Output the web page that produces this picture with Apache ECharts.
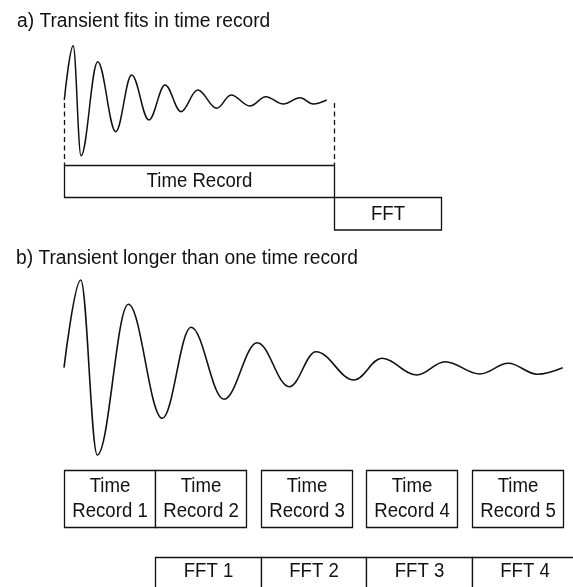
<!DOCTYPE html>
<html><head><meta charset="utf-8">
<script src="https://cdn.jsdelivr.net/npm/echarts@6/dist/echarts.min.js"></script>
<style>html,body{margin:0;padding:0;background:#fff}#c{width:573px;height:587px}</style>
</head><body><div id="c"></div>
<script>
// ---- Panel a: transient fits in one time record ----
// time in units of one time record, amplitude relative to the first peak
const aTime = [0, 0.033, 0.062, 0.124, 0.191, 0.250, 0.314, 0.374, 0.433, 0.495, 0.566, 0.619, 0.689, 0.748, 0.813, 0.875, 0.924, 0.974];
const aAmp  = [0, 1.0, -1.026, 0.705, -0.584, 0.460, -0.368, 0.276, -0.215, 0.184, -0.153, 0.092, -0.110, 0.061, -0.074, 0.042, -0.074, 0];
const aBoxLabels = ['Time Record', 'FFT'];
const aBoxStart  = [0, 1];
const aBoxEnd    = [1, 1.4];
const aRecordEdges = [0, 1];

// ---- Panel b: transient longer than one time record ----
const bTime = [0, 0.184, 0.366, 0.707, 1.080, 1.396, 1.758, 2.124, 2.476, 2.769, 3.187, 3.491, 3.876, 4.187, 4.571, 4.882, 5.201, 5.480];
const bAmp  = [0, 1.0, -0.995, 0.723, -0.577, 0.461, -0.360, 0.285, -0.217, 0.182, -0.140, 0.107, -0.083, 0.068, -0.072, 0.050, -0.075, 0];
const bRecordLabels = ['Time\nRecord 1', 'Time\nRecord 2', 'Time\nRecord 3', 'Time\nRecord 4', 'Time\nRecord 5'];
const bRecordStart  = [0, 1, 2.16, 3.32, 4.48];
const bRecordEnd    = [1, 2, 3.16, 4.32, 5.48];
const bFftLabels = ['FFT 1', 'FFT 2', 'FFT 3', 'FFT 4'];
const bFftStart  = [1, 2.16, 3.32, 4.48];
const bFftEnd    = [2.16, 3.32, 4.48, 5.64];

const titles = ['a) Transient fits in time record', 'b) Transient longer than one time record'];

// ---- styling / layout ----
const FONT = '20px "Liberation Sans", Arial, sans-serif';
const SX = 0.93;            // condensed look of the original typeface (box labels)
const SX_TITLE = 0.96;
const INK = '#111';

const chart = echarts.init(document.getElementById('c'), null, {renderer: 'canvas'});

function boxSeries(labels, starts, ends, top, height, gridIdx, labelDy, lineH) {
  return {
    type: 'custom',
    xAxisIndex: gridIdx, yAxisIndex: gridIdx,
    silent: true,
    clip: false,
    data: starts.map((s, i) => [s, ends[i]]),
    encode: {x: [0, 1]},
    renderItem: function (params, api) {
      const s = api.coord([api.value(0), 0]);
      const e = api.coord([api.value(1), 0]);
      const x0 = Math.round(s[0]) + 0.5, x1 = Math.round(e[0]) + 0.5;
      return {
        type: 'group',
        children: [
          {type: 'rect', shape: {x: x0, y: top, width: x1 - x0, height: height},
           style: {fill: '#fff', stroke: INK, lineWidth: 1.3}},
          {type: 'text', x: (x0 + x1) / 2, y: top + labelDy, scaleX: SX,
           style: {text: labels[params.dataIndex], x: 0, y: 0,
            align: 'center', verticalAlign: 'middle', fill: INK,
            font: FONT, lineHeight: lineH}}
        ]
      };
    }
  };
}

const option = {
  animation: false,
  backgroundColor: '#fff',
  grid: [
    {left: 64.3, top: 34.84, width: 377.16, height: 130.32, containLabel: false, outerBoundsMode: 'none'},
    {left: 64, top: 262.46, width: 513.24, height: 210.48, containLabel: false, outerBoundsMode: 'none'}
  ],
  xAxis: [
    {type: 'value', gridIndex: 0, min: 0, max: 1.4, show: false},
    {type: 'value', gridIndex: 1, min: 0, max: 5.64, show: false}
  ],
  yAxis: [
    {type: 'value', gridIndex: 0, min: -1.2, max: 1.2, show: false},
    {type: 'value', gridIndex: 1, min: -1.2, max: 1.2, show: false}
  ],
  graphic: [
    {type: 'text', x: 17, y: 21, scaleX: SX_TITLE, style: {text: titles[0], fill: INK, font: FONT, verticalAlign: 'middle'}},
    {type: 'text', x: 16, y: 258.5, scaleX: SX_TITLE, style: {text: titles[1], fill: INK, font: FONT, verticalAlign: 'middle'}}
  ],
  series: [
    {
      type: 'line', xAxisIndex: 0, yAxisIndex: 0, silent: true,
      data: aTime.map((t, i) => [t, aAmp[i]]),
      showSymbol: false, symbol: 'none', smooth: 0.37, smoothMonotone: 'x',
      lineStyle: {color: INK, width: 1.5}
    },
    {
      type: 'custom', xAxisIndex: 0, yAxisIndex: 0, silent: true, clip: false,
      data: aRecordEdges.map(t => [t]),
      encode: {x: 0},
      renderItem: function (params, api) {
        const p = api.coord([api.value(0), 0]);
        const x = Math.round(p[0]) + 0.5;
        return {type: 'line', shape: {x1: x, y1: p[1] + 3, x2: x, y2: 165.5},
          style: {stroke: INK, lineWidth: 1.3, lineDash: [5, 3.5]}};
      }
    },
    boxSeries(aBoxLabels.slice(0, 1), aBoxStart.slice(0, 1), aBoxEnd.slice(0, 1), 165.5, 32, 0, 16.2, 22),
    boxSeries(aBoxLabels.slice(1), aBoxStart.slice(1), aBoxEnd.slice(1), 197.5, 32.5, 0, 16.5, 22),
    {
      type: 'line', xAxisIndex: 1, yAxisIndex: 1, silent: true,
      data: bTime.map((t, i) => [t, bAmp[i]]),
      showSymbol: false, symbol: 'none', smooth: 0.37, smoothMonotone: 'x',
      lineStyle: {color: INK, width: 1.6}
    },
    boxSeries(bRecordLabels, bRecordStart, bRecordEnd, 470.5, 57, 1, 28.5, 25),
    boxSeries(bFftLabels, bFftStart, bFftEnd, 557.5, 40, 1, 14, 22)
  ]
};
chart.setOption(option);
</script>
</body></html>
